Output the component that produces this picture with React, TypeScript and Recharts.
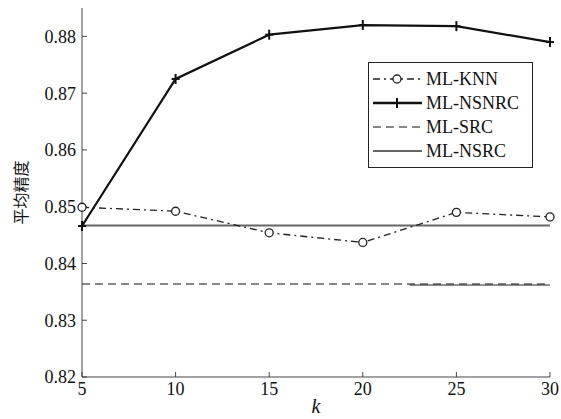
import { LineChart, Line, XAxis, YAxis, Legend, ReferenceLine } from 'recharts';

// k values and the four series
const kValues = [5, 10, 15, 20, 25, 30];
const mlKnn = [0.8499, 0.8492, 0.8454, 0.8437, 0.849, 0.8482];
const mlNsnrc = [0.8466, 0.8725, 0.8803, 0.882, 0.8818, 0.879];
const mlSrc = [0.8364, 0.8364, 0.8364, 0.8364, 0.8364, 0.8364];
const mlNsrc = [0.8467, 0.8467, 0.8467, 0.8467, 0.8467, 0.8467];

const xTicks = [5, 10, 15, 20, 25, 30];
const yTicks = [0.82, 0.83, 0.84, 0.85, 0.86, 0.87, 0.88];

const data = kValues.map((k, i) => ({
  k,
  knn: mlKnn[i],
  nsnrc: mlNsnrc[i],
  src: mlSrc[i],
  nsrc: mlNsrc[i],
}));

const FONT = '"Liberation Serif", "Times New Roman", Times, serif';
const AXIS = '#444';

const PlusDot = (props: any) => {
  const { cx, cy } = props;
  if (cx == null || cy == null) return null;
  return (
    <g stroke="#111" strokeWidth={2}>
      <line x1={cx - 4} y1={cy} x2={cx + 4} y2={cy} />
      <line x1={cx} y1={cy - 5} x2={cx} y2={cy + 5} />
    </g>
  );
};

const NoTick = () => <g />;

const legendItems = [
  { name: 'ML-KNN', stroke: '#222', width: 1.3, dash: '7 4 2 4', marker: 'circle' },
  { name: 'ML-NSNRC', stroke: '#111', width: 2.5, dash: undefined, marker: 'plus' },
  { name: 'ML-SRC', stroke: '#888', width: 2, dash: '8 5', marker: '' },
  { name: 'ML-NSRC', stroke: '#666', width: 2, dash: undefined, marker: '' },
];

const LegendBox = () => (
  <div
    style={{
      border: '1px solid #222',
      background: '#fff',
      width: 163,
      padding: '4px 0',
      fontFamily: FONT,
      fontSize: 18,
      color: '#111',
    }}
  >
    {legendItems.map((it) => (
      <div key={it.name} style={{ display: 'flex', alignItems: 'center', height: 24 }}>
        <svg width={57} height={20}>
          <line x1={4} y1={10} x2={53} y2={10} stroke={it.stroke} strokeWidth={it.width} strokeDasharray={it.dash} />
          {it.marker === 'circle' && <circle cx={28} cy={10} r={4} fill="#fff" stroke="#222" strokeWidth={1.3} />}
          {it.marker === 'plus' && <PlusDot cx={28} cy={10} />}
        </svg>
        <span>{it.name}</span>
      </div>
    ))}
  </div>
);

const tickStyle = { fill: '#111', fontSize: 18, style: { fontFamily: FONT } };

const App = () => {
  return (
    <div style={{ position: 'absolute', left: 0, top: 0, background: '#fff' }}>
      <LineChart width={561} height={419} data={data} margin={{ top: 8, right: 11, bottom: 0, left: 0 }}>
        <XAxis
          dataKey="k"
          type="number"
          domain={[5, 30]}
          ticks={xTicks}
          stroke={AXIS}
          tickSize={-5}
          tickMargin={10}
          height={42}
          tick={tickStyle}
          label={{ value: 'k', position: 'insideBottom', offset: 6, fill: '#111', fontSize: 20, fontStyle: 'italic', style: { fontFamily: FONT } }}
        />
        <XAxis xAxisId="top" dataKey="k" type="number" domain={[5, 30]} ticks={xTicks} orientation="top" height={0} stroke={AXIS} tickSize={-5} tick={<NoTick />} />
        <YAxis
          type="number"
          domain={[0.82, 0.885]}
          allowDataOverflow
          ticks={yTicks}
          stroke={AXIS}
          tickSize={-5}
          tickMargin={11}
          width={82}
          tick={tickStyle}
          label={{ value: '平均精度', angle: -90, position: 'insideLeft', offset: 14, textAnchor: 'middle', dx: 7, fill: '#111', fontSize: 16, style: { fontFamily: 'Noto Sans CJK SC' } }}
        />
        <YAxis yAxisId="right" orientation="right" type="number" domain={[0.82, 0.885]} allowDataOverflow ticks={yTicks} width={0} stroke={AXIS} tickSize={-5} tick={<NoTick />} />
        <Legend content={<LegendBox />} layout="horizontal" verticalAlign="middle" align="center" wrapperStyle={{ position: 'absolute', left: 368, top: 62, width: 165 }} />
        <Line dataKey="src" name="ML-SRC" stroke="#888" strokeWidth={2} strokeDasharray="8 5" dot={false} isAnimationActive={false} />
        <Line dataKey="nsrc" name="ML-NSRC" stroke="#666" strokeWidth={2} dot={false} isAnimationActive={false} />
        <ReferenceLine segment={[{ x: 22.5, y: 0.8362 }, { x: 30, y: 0.8362 }]} stroke="#222" strokeWidth={1} />
        <Line
          dataKey="knn"
          name="ML-KNN"
          stroke="#222"
          strokeWidth={1.3}
          strokeDasharray="7 4 2 4"
          dot={{ r: 4, fill: '#fff', stroke: '#222', strokeWidth: 1.3, strokeDasharray: '' }}
          isAnimationActive={false}
        />
        <Line dataKey="nsnrc" name="ML-NSNRC" stroke="#111" strokeWidth={2.2} dot={<PlusDot />} isAnimationActive={false} />
      </LineChart>
    </div>
  );
};

export default App;
